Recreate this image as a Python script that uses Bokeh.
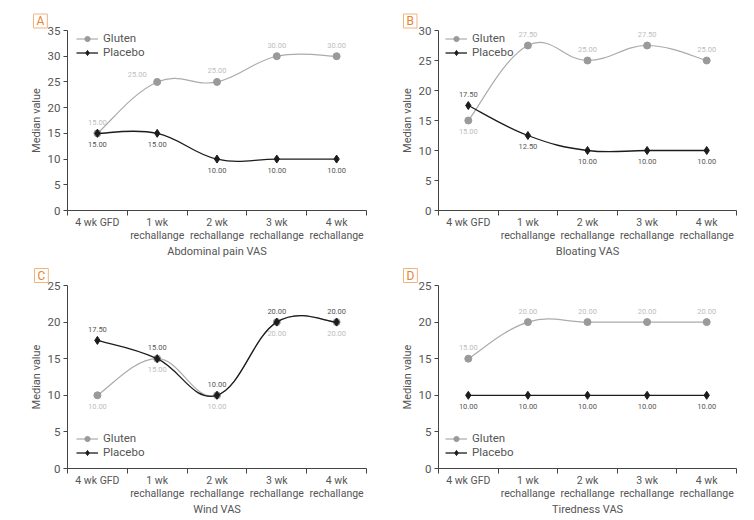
import numpy as np
from bokeh.plotting import figure
from bokeh.layouts import column, row
from bokeh.models import FixedTicker, Legend, LegendItem, Title
from bokeh.core.properties import value
from bokeh.embed import file_html
from bokeh.resources import INLINE

# ---- data ----
categories = ["4 wk GFD", "1 wk\nrechallange", "2 wk\nrechallange",
              "3 wk\nrechallange", "4 wk\nrechallange"]

abdominal_gluten = [15, 25, 25, 30, 30]
abdominal_placebo = [15, 15, 10, 10, 10]
bloating_gluten = [15, 27.5, 25, 27.5, 25]
bloating_placebo = [17.5, 12.5, 10, 10, 10]
wind_gluten = [10, 15, 10, 20, 20]
wind_placebo = [17.5, 15, 10, 20, 20]
tiredness_gluten = [15, 20, 20, 20, 20]
tiredness_placebo = [10, 10, 10, 10, 10]

titles = ["Abdominal pain VAS", "Bloating VAS", "Wind VAS", "Tiredness VAS"]
panel_letters = ["A", "B", "C", "D"]
y_max = [35, 30, 25, 25]

# label side per point: +1 above, -1 below
side_gluten = [[1, 1, 1, 1, 1], [-1, 1, 1, 1, 1], [-1, -1, -1, -1, -1], [1, 1, 1, 1, 1]]
side_placebo = [[-1, -1, -1, -1, -1], [1, -1, -1, -1, -1], [1, 1, 1, 1, 1], [-1, -1, -1, -1, -1]]

FONT = value("Roboto")
GLUTEN_LINE = "#ababab"
GLUTEN_MARK = "#9a9a9a"
GLUTEN_TEXT = "#bdbdbd"
PLACEBO = "#1c1c1c"
PLACEBO_TEXT = "#555555"
AXIS = "#444444"
TEXT = "#555555"
ORANGE = "#e8832e"
ORANGE_BORDER = "#f2b47e"


def bezier_segments(ys, f=0.2):
    x = np.arange(len(ys)) + 0.5
    y = np.asarray(ys, dtype=float)
    xp = np.concatenate([[x[0]], x, [x[-1]]])
    yp = np.concatenate([[y[0]], y, [y[-1]]])
    seg = dict(x0=[], y0=[], x1=[], y1=[], cx0=[], cy0=[], cx1=[], cy1=[])
    for i in range(len(y) - 1):
        p0x, p0y = xp[i], yp[i]
        p1x, p1y = xp[i + 1], yp[i + 1]
        p2x, p2y = xp[i + 2], yp[i + 2]
        p3x, p3y = xp[i + 3], yp[i + 3]
        seg["x0"].append(p1x); seg["y0"].append(p1y)
        seg["x1"].append(p2x); seg["y1"].append(p2y)
        seg["cx0"].append(p1x + f * (p2x - p0x)); seg["cy0"].append(p1y + f * (p2y - p0y))
        seg["cx1"].append(p2x - f * (p3x - p1x)); seg["cy1"].append(p2y - f * (p3y - p1y))
    return seg


def make_panel(idx, gluten, placebo, width, height, left, right, top, bottom,
               legend_pos, title_offset, title_standoff, gl_dx=None, gl_dy=None):
    ym = y_max[idx]
    p = figure(width=width, height=height, x_range=(0, 5), y_range=(0, ym),
               output_backend="svg", toolbar_location=None,
               min_border_left=left, min_border_right=right,
               min_border_top=top, min_border_bottom=bottom)
    p.xgrid.visible = False
    p.ygrid.visible = False
    p.outline_line_color = None
    p.background_fill_color = "white"
    p.border_fill_color = "white"

    p.title = Title(text=panel_letters[idx], align="left", offset=title_offset,
                    standoff=title_standoff, text_font="Roboto", text_font_size="12px",
                    text_font_style="normal", text_color=ORANGE,
                    border_line_color=ORANGE_BORDER, border_line_width=1,
                    background_fill_color="white", padding=(3, 0))

    xs = [i + 0.5 for i in range(len(categories))]

    # x axis
    xa = p.xaxis[0]
    xa.ticker = FixedTicker(ticks=xs, minor_ticks=list(range(0, 6)))
    xa.major_label_overrides = {x: c for x, c in zip(xs, categories)}
    xa.major_tick_out = 0
    xa.major_tick_in = 0
    xa.minor_tick_out = 5
    xa.minor_tick_in = 0
    xa.minor_tick_line_color = AXIS
    xa.axis_line_color = AXIS
    xa.major_label_text_font = "Roboto"
    xa.major_label_text_font_size = "10.5px"
    xa.major_label_text_line_height = 1.05
    xa.major_label_text_color = TEXT
    xa.major_label_standoff = 0
    xa.axis_label = titles[idx]
    xa.axis_label_text_font = "Roboto"
    xa.axis_label_text_font_size = "11px"
    xa.axis_label_text_font_style = "normal"
    xa.axis_label_text_color = TEXT
    xa.axis_label_standoff = 0

    # y axis
    ya = p.yaxis[0]
    ya.ticker = FixedTicker(ticks=list(range(0, ym + 1, 5)), minor_ticks=[])
    ya.major_tick_out = 4
    ya.major_tick_in = 0
    ya.minor_tick_out = 0
    ya.minor_tick_in = 0
    ya.axis_line_color = AXIS
    ya.major_tick_line_color = AXIS
    ya.major_label_text_font = "Roboto"
    ya.major_label_text_font_size = "11.5px"
    ya.major_label_text_color = TEXT
    ya.major_label_standoff = 3
    ya.axis_label = "Median value"
    ya.axis_label_text_font = "Roboto"
    ya.axis_label_text_font_size = "11px"
    ya.axis_label_text_font_style = "normal"
    ya.axis_label_text_color = TEXT
    ya.axis_label_standoff = 2

    # smooth lines
    g = bezier_segments(gluten)
    gl_line = p.bezier(line_color=GLUTEN_LINE, line_width=1.2, **g)
    gl_pts = p.scatter(x=xs, y=gluten, marker="circle", size=7,
                       fill_color=GLUTEN_MARK, line_color=GLUTEN_MARK)

    pl = bezier_segments(placebo)
    pl_line = p.bezier(line_color=PLACEBO, line_width=1.3, **pl)
    pl_pts = p.scatter(x=xs, y=placebo, marker="diamond", size=8,
                       fill_color=PLACEBO, line_color=PLACEBO)

    # value labels
    gdx = gl_dx if gl_dx is not None else [0] * 5
    gdy = gl_dy if gl_dy is not None else [0] * 5
    p.text(x=xs, y=gluten, text=[f"{v:.2f}" for v in gluten],
           x_offset=gdx,
           y_offset=[-11 * s + d for s, d in zip(side_gluten[idx], gdy)],
           text_align="center", text_baseline="middle", text_font=FONT,
           text_font_size="7.5px", text_color=GLUTEN_TEXT)
    p.text(x=xs, y=placebo, text=[f"{v:.2f}" for v in placebo],
           y_offset=[-11 * s for s in side_placebo[idx]],
           text_align="center", text_baseline="middle", text_font=FONT,
           text_font_size="7.5px", text_color=PLACEBO_TEXT)

    legend = Legend(items=[LegendItem(label="Gluten", renderers=[gl_line, gl_pts]),
                           LegendItem(label="Placebo", renderers=[pl_line, pl_pts])],
                    location=legend_pos, padding=0, spacing=0, margin=0,
                    glyph_width=22, glyph_height=13, label_height=13, label_standoff=5,
                    label_text_font="Roboto", label_text_font_size="11.5px",
                    label_text_color=TEXT, background_fill_alpha=0,
                    border_line_alpha=0)
    p.add_layout(legend, "center")
    return p


# row 1: frame 180 px tall; legend top just below frame top
pA = make_panel(0, abdominal_gluten, abdominal_placebo, 377, 261, 67, 11, 30, 51,
                (9, 151), -34, 5, gl_dx=[0, -20, 0, 0, 0], gl_dy=[0, 4, 0, 0, 0])
pB = make_panel(1, bloating_gluten, bloating_placebo, 377, 261, 61, 18, 30, 51,
                (7, 151), -35, 5)
pC = make_panel(2, wind_gluten, wind_placebo, 377, 259, 67, 11, 24, 52,
                (9, 9), -33, 6)
pD = make_panel(3, tiredness_gluten, tiredness_placebo, 377, 259, 61, 18, 24, 52,
                (7, 9), -35, 6)

layout = column(row(pA, pB), row(pC, pD))
open("out.html", "w").write(file_html(layout, INLINE))
